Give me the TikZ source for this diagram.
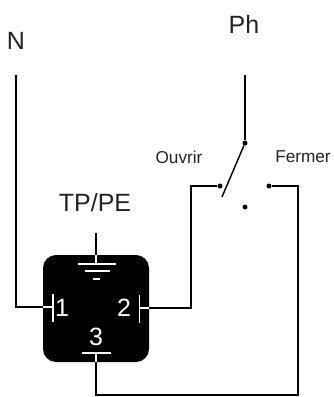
\documentclass[tikz,border=0pt]{standalone}
\usepackage{fontspec}
\setmainfont{Liberation Sans}
\usepackage{xcolor}
\definecolor{mltext}{RGB}{35, 35, 35}
\tikzset{
  wire/.style={line width=1.45pt, black},
  whitewire/.style={line width=1.3pt, white},
  contact/.style={circle, fill=black, inner sep=0pt, minimum size=5pt},
  biglabel/.style={inner sep=0pt, text=mltext, font=\fontsize{25}{25}\selectfont},
  smalllabel/.style={inner sep=0pt, text=mltext, font=\fontsize{17.2}{17.2}\selectfont},
  pinlabel/.style={inner sep=0pt, text=white, font=\fontsize{25}{25}\selectfont},
  relaybox/.style={fill=black, rounded corners=13pt, minimum width=106pt, minimum height=107pt, inner sep=0pt}
}
\begin{document}
\begin{tikzpicture}[x=1pt, y=-1pt]
\useasboundingbox (0,0) rectangle (333,397);

% Relay body
\node[relaybox] (relay) at (96,308.5) {};
\node[pinlabel] (pinone) at (62,308) {1};
\node[pinlabel] (pintwo) at (124,308) {2};
\node[pinlabel] (pinthree) at (96,337) {3};

% Labels
\node[biglabel] (neutral) at (16,41) {N};
\node[biglabel] (phase) at (244,24) {Ph};
\node[biglabel] (earth) at (95,203) {TP/PE};
\node[smalllabel] (open) at (179,157) {Ouvrir};
\node[smalllabel] (close) at (303,157) {Fermer};

% Switch contacts
\node[contact] (pivot) at (245,143) {};
\node[contact] (openpin) at (220,186) {};
\node[contact] (closepin) at (269,186) {};
\node[contact] (restpin) at (245,207) {};

% Anchor points
\coordinate (neutraltop) at (16,75);
\coordinate (phasetop) at (245,75);
\coordinate (bladeend) at (222,197);
\coordinate (earthtop) at (96,233);
\coordinate (earthin) at (96,255);
\coordinate (earthbar) at (96,264);
\coordinate (leftin) at (43,307);
\coordinate (lefttick) at (53,307);
\coordinate (rightin) at (149,308);
\coordinate (righttick) at (139.5,308);
\coordinate (bottomin) at (96,362);
\coordinate (bottomtick) at (96,353);

% Wires
\draw[wire] (neutraltop) -- (leftin -| neutraltop) -- (leftin);
\draw[wire] (phasetop) -- (pivot);
\draw[wire] (pivot) -- (bladeend);
\draw[wire] (rightin) -- (191,308) -- (191,186) -- (openpin);
\draw[wire] (closepin) -- (298,186) -- (298,395) -- (96,395) -- (bottomin);
\draw[wire] (earthtop) -- (earthin);

% White terminals
\draw[whitewire] (leftin) -- (lefttick);
\draw[whitewire] (53,294) -- (53,322);
\draw[whitewire] (rightin) -- (righttick);
\draw[whitewire] (139.5,295) -- (139.5,323);
\draw[whitewire] (bottomin) -- (bottomtick);
\draw[whitewire] (82,353) -- (111,353);

% Earth symbol
\draw[whitewire] (earthin) -- (earthbar);
\draw[whitewire] (78,264) -- (116,264);
\draw[whitewire] (85,271) -- (110,271);
\draw[whitewire] (93,279) -- (100,279);
\end{tikzpicture}
\end{document}
